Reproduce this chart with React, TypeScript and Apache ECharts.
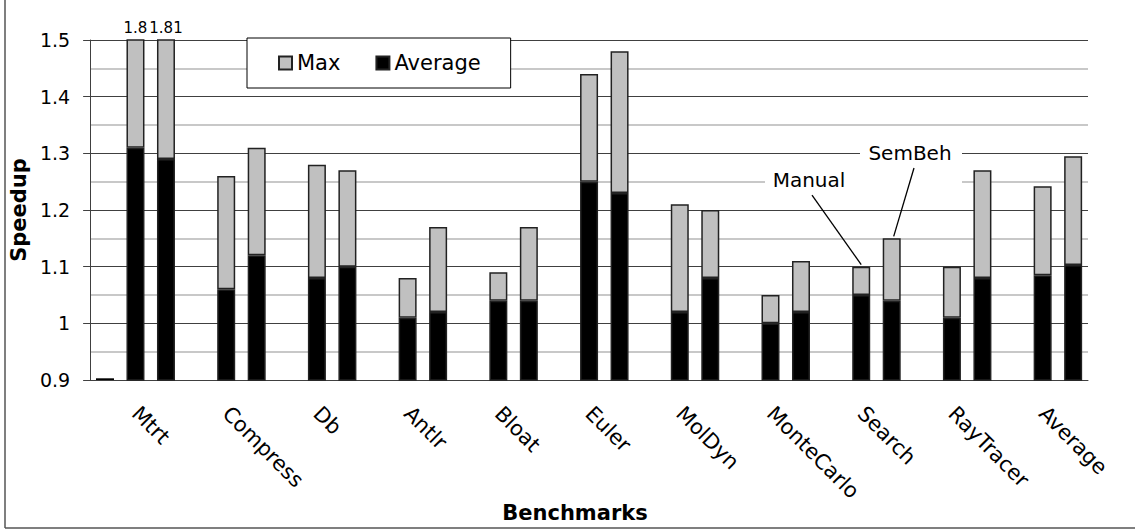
import React, { useEffect, useRef } from "react";
import * as echarts from "echarts";

const categories = ["Mtrt", "Compress", "Db", "Antlr", "Bloat", "Euler", "MolDyn", "MonteCarlo", "Search", "RayTracer", "Average"];
const baseline = [0.903, null, null, null, null, null, null, null, null, null, null];
const manualAvg = [1.31, 1.06, 1.08, 1.01, 1.04, 1.25, 1.02, 1.0, 1.05, 1.01, 1.085];
const manualMax = [1.8, 1.26, 1.28, 1.08, 1.09, 1.44, 1.21, 1.05, 1.1, 1.1, 1.242];
const semAvg = [1.29, 1.12, 1.1, 1.02, 1.04, 1.23, 1.08, 1.02, 1.04, 1.08, 1.103];
const semMax = [1.81, 1.31, 1.27, 1.17, 1.17, 1.48, 1.2, 1.11, 1.15, 1.27, 1.295];
const Y_MIN = 0.9;
const Y_MAX = 1.5;
const Y_STEP = 0.1;

const FONT = "DejaVu Sans";
const BAR_W = 18;
const GAP_PX = 12.5;
const GRAY = "#c0c0c0";
const EDGE = "#222";

export default function App() {
  const ref = useRef<HTMLDivElement>(null);
  useEffect(() => {
    if (!ref.current) return;
    const chart = echarts.init(ref.current, null, { renderer: "svg" });
    const diff = (mx: number[], av: number[]) => mx.map((m, i) => +(m - av[i]).toFixed(4));
    const topLabel = (maxArr: number[]) => ({
      show: true,
      position: "top",
      distance: 4,
      fontFamily: FONT,
      fontSize: 15,
      color: "#000",
      formatter: (p: any) => (maxArr[p.dataIndex] > Y_MAX ? String(maxArr[p.dataIndex]) : ""),
    });
    const itemStyle = (c: string) => ({ color: c, borderColor: EDGE, borderWidth: 1.5 });
    chart.setOption({
      animation: false,
      textStyle: { fontFamily: FONT },
      grid: { left: 90, right: 47, top: 40, bottom: 151 },
      legend: {
        data: ["Max", "Average"],
        icon: "rect",
        left: 247,
        top: 38,
        orient: "horizontal",
        itemWidth: 13,
        itemHeight: 13,
        itemGap: 35,
        padding: [14, 30, 14, 31],
        backgroundColor: "#fff",
        borderColor: "#000",
        borderWidth: 1,
        textStyle: { fontFamily: FONT, fontSize: 21, color: "#000", lineHeight: 22 },
      },
      xAxis: {
        type: "category",
        data: categories,
        axisLine: { lineStyle: { color: "#404040", width: 1 } },
        axisTick: { show: false },
        axisLabel: { interval: 0, rotate: -45, margin: 30, fontSize: 21, color: "#000", fontFamily: FONT },
      },
      yAxis: {
        type: "value",
        min: Y_MIN,
        max: Y_MAX,
        interval: Y_STEP,
        name: "Speedup",
        nameLocation: "middle",
        nameGap: 55,
        nameTextStyle: { fontFamily: FONT, fontSize: 21, fontWeight: "bold", color: "#000" },
        axisLine: { show: true, lineStyle: { color: "#404040", width: 1 } },
        axisTick: { show: true, length: 7, lineStyle: { color: "#404040" } },
        axisLabel: { margin: 20, fontSize: 19, color: "#000", fontFamily: FONT },
        splitLine: { show: true, lineStyle: { color: "#404040", width: 1 } },
        minorTick: { show: false, splitNumber: 2 },
        minorSplitLine: { show: true, lineStyle: { color: "#c8c8c8", width: 2 } },
      },
      series: [
        { type: "bar", name: "", stack: "b", data: baseline, barWidth: BAR_W, barGap: (GAP_PX / BAR_W) * 100 + "%", itemStyle: { color: "#000" } },
        { type: "bar", name: "Average", stack: "m", data: manualAvg, barWidth: BAR_W, itemStyle: itemStyle("#000") },
        { type: "bar", name: "Max", stack: "m", data: diff(manualMax, manualAvg), barWidth: BAR_W, itemStyle: itemStyle(GRAY), label: topLabel(manualMax) },
        { type: "bar", name: "Average", stack: "s", data: semAvg, barWidth: BAR_W, itemStyle: itemStyle("#000") },
        { type: "bar", name: "Max", stack: "s", data: diff(semMax, semAvg), barWidth: BAR_W, itemStyle: itemStyle(GRAY), label: topLabel(semMax) },
      ],
    });
    const si = categories.indexOf("Search");
    const cx = chart.convertToPixel({ xAxisIndex: 0 }, si) as number;
    const yM = chart.convertToPixel({ yAxisIndex: 0 }, manualMax[si]) as number;
    const yS = chart.convertToPixel({ yAxisIndex: 0 }, semMax[si]) as number;
    const off = BAR_W + GAP_PX;
    chart.setOption({
      graphic: [
        { type: "line", z: 100, shape: { x1: 5, y1: 0, x2: 5, y2: 528 }, style: { stroke: "#555", lineWidth: 1.5 } },
        { type: "line", z: 100, shape: { x1: 5, y1: 528, x2: 1135, y2: 528 }, style: { stroke: "#555", lineWidth: 1.5 } },
        { type: "rect", z: 100, shape: { x: 765, y: 168, width: 95, height: 24 }, style: { fill: "#fff" } },
        { type: "rect", z: 100, shape: { x: 860, y: 140, width: 102, height: 50 }, style: { fill: "#fff" } },
        { type: "text", z: 101, x: 809, y: 180, style: { text: "Manual", font: `20px '${FONT}'`, fill: "#000", align: "center", verticalAlign: "middle" } },
        { type: "text", z: 101, x: 910, y: 153, style: { text: "SemBeh", font: `20px '${FONT}'`, fill: "#000", align: "center", verticalAlign: "middle" } },
        { type: "line", z: 101, shape: { x1: 812, y1: 195, x2: cx, y2: yM - 2 }, style: { stroke: "#000", lineWidth: 1.3 } },
        { type: "line", z: 101, shape: { x1: 914, y1: 168, x2: cx + off + 2, y2: yS - 2 }, style: { stroke: "#000", lineWidth: 1.3 } },
        { type: "text", z: 101, x: 575, y: 513, style: { text: "Benchmarks", font: `bold 21px '${FONT}'`, fill: "#000", align: "center", verticalAlign: "middle" } },
      ],
    });
    return () => chart.dispose();
  }, []);
  return <div ref={ref} style={{ position: "fixed", left: 0, top: 0, width: 1135, height: 531, background: "#fff" }} />;
}
